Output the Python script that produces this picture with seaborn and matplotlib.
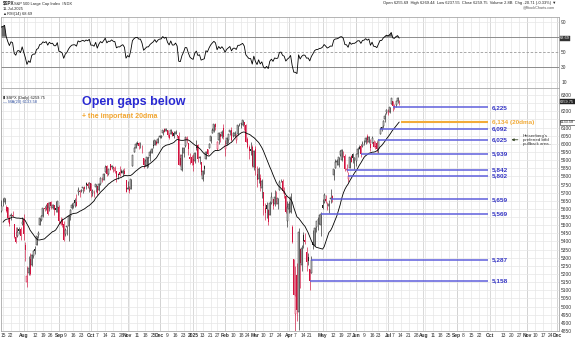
import numpy as np
import pandas as pd
import matplotlib
matplotlib.use("Agg")
import matplotlib.pyplot as plt
import matplotlib.transforms as mtransforms
import seaborn as sns

# ---------------------------------------------------------------- data
first_session = "2024-06-14"
view_start = "2024-07-15"
last_axis_day = "2025-12-05"
market_holidays = ["2024-06-19", "2024-07-04", "2024-09-02", "2024-11-28", "2024-12-25",
                   "2025-01-01", "2025-01-09", "2025-01-20", "2025-02-17", "2025-04-18",
                   "2025-05-26", "2025-06-19", "2025-07-04", "2025-09-01", "2025-11-27",
                   "2025-12-25"]

# daily S&P 500 candles, one line per month (first line: lead-in for the indicators)
opens = [
    5402, 5431, 5476, 5499, 5466, 5459, 5460, 5460, 5473, 5488, 5471, 5461, 5507, 5537, 5572, 5584, 5592, 5635, 5590,
    5638, 5644, 5610, 5609, 5544, 5554, 5565, 5506, 5429, 5434, 5477, 5479, 5505,
    5537, 5376, 5151, 5206, 5293, 5253, 5313, 5352, 5377, 5442, 5502, 5531, 5558, 5603, 5604, 5637, 5603, 5640, 5603, 5624, 5608, 5612,
    5612, 5506, 5531, 5508, 5443, 5490, 5496, 5557, 5605, 5616, 5655, 5641, 5703, 5709, 5711, 5727, 5733, 5762, 5755, 5727,
    5757, 5698, 5697, 5737, 5738, 5719, 5751, 5778, 5775, 5829, 5866, 5816, 5875, 5860, 5858, 5833, 5835, 5817, 5827, 5831, 5819, 5832, 5775,
    5724, 5725, 5722, 5865, 5947, 5976, 6008, 6003, 5986, 5989, 5913, 5870, 5861, 5914, 5925, 5944, 5993, 5992, 6014, 6004,
    6040, 6042, 6069, 6089, 6081, 6084, 6057, 6061, 6074, 6068, 6063, 6052, 6048, 5913, 5842, 5941, 5985, 6025, 6006, 5921, 5920,
    5904, 5892, 5983, 5993, 5910, 5890, 5785, 5863, 5906, 5967, 5976, 6015, 6069, 6077, 6121, 5970, 6026, 6058, 6050, 6096,
    5969, 5998, 6021, 6072, 6083, 6047, 6050, 6026, 6060, 6115, 6121, 6118, 6134, 6115, 6027, 5982, 5970, 5981, 5856,
    5969, 5812, 5782, 5787, 5726, 5705, 5604, 5624, 5594, 5563, 5635, 5662, 5633, 5646, 5631, 5718, 5775, 5771, 5696, 5679, 5527,
    5597, 5581, 5492, 5292, 4953, 5193, 4966, 5353, 5255, 5441, 5411, 5335, 5305, 5232, 5207, 5395, 5381, 5489, 5529, 5508, 5499,
    5625, 5645, 5659, 5605, 5619, 5663, 5679, 5807, 5854, 5886, 5870, 5930, 5903, 5944, 5928, 5841, 5781, 5854, 5926, 5939, 5903,
    5897, 5938, 5978, 5985, 5987, 6005, 6010, 6050, 6009, 5997, 6005, 6013, 5988, 6004, 5970, 6061, 6104, 6108, 6151, 6193,
    6187, 6193, 6243, 6261, 6235, 6239, 6266, 6255.69,
]
highs = [
    5432, 5488, 5490, 5506, 5478, 5490, 5472, 5483, 5490, 5523, 5489, 5510, 5540, 5570, 5583, 5590, 5635, 5642, 5655,
    5670, 5668, 5622, 5614, 5556, 5574, 5585, 5508, 5492, 5488, 5487, 5487, 5551,
    5566, 5396, 5250, 5312, 5331, 5326, 5350, 5371, 5436, 5464, 5545, 5562, 5608, 5620, 5633, 5643, 5641, 5651, 5628, 5627, 5647, 5651,
    5623, 5552, 5546, 5523, 5485, 5497, 5560, 5600, 5636, 5637, 5670, 5690, 5734, 5715, 5725, 5735, 5741, 5767, 5765, 5763,
    5758, 5720, 5718, 5751, 5739, 5757, 5796, 5796, 5822, 5871, 5870, 5846, 5878, 5872, 5866, 5863, 5835, 5818, 5862, 5843, 5847, 5851, 5780,
    5772, 5741, 5783, 5933, 5983, 6012, 6018, 6010, 6009, 5993, 5915, 5909, 5921, 5921, 5962, 5973, 6021, 6025, 6021, 6044,
    6053, 6052, 6087, 6099, 6099, 6088, 6065, 6093, 6079, 6078, 6085, 6057, 6070, 5936, 5982, 5979, 6040, 6050, 6006, 5941, 5930,
    5935, 5950, 6022, 6000, 5928, 5890, 5837, 5872, 5953, 5968, 6007, 6051, 6100, 6119, 6128, 6018, 6070, 6063, 6087, 6120,
    6023, 6042, 6062, 6084, 6101, 6074, 6076, 6063, 6117, 6127, 6129, 6147, 6134, 6120, 6043, 5992, 6009, 5994, 5959,
    5986, 5866, 5860, 5812, 5786, 5706, 5636, 5642, 5597, 5646, 5703, 5662, 5715, 5711, 5670, 5775, 5786, 5783, 5732, 5685, 5651,
    5650, 5695, 5500, 5292, 5247, 5267, 5482, 5353, 5381, 5460, 5450, 5367, 5328, 5232, 5309, 5469, 5490, 5528, 5553, 5565, 5581,
    5658, 5700, 5683, 5641, 5654, 5720, 5683, 5846, 5906, 5906, 5917, 5959, 5968, 5954, 5939, 5878, 5829, 5922, 5930, 5943, 5922,
    5938, 5979, 5991, 5999, 6016, 6022, 6044, 6059, 6046, 6027, 6050, 6023, 6018, 6018, 6028, 6101, 6108, 6146, 6188, 6215,
    6211, 6227, 6284, 6263, 6242, 6265, 6290, 6269.44,
]
lows = [
    5403, 5420, 5471, 5455, 5452, 5447, 5446, 5451, 5469, 5451, 5446, 5452, 5507, 5531, 5562, 5574, 5587, 5576, 5583,
    5620, 5631, 5584, 5522, 5497, 5532, 5550, 5419, 5390, 5430, 5444, 5408, 5502,
    5410, 5283, 5120, 5193, 5192, 5249, 5298, 5324, 5377, 5419, 5502, 5525, 5553, 5586, 5592, 5561, 5585, 5602, 5602, 5560, 5581, 5581,
    5515, 5503, 5486, 5402, 5434, 5442, 5406, 5535, 5601, 5604, 5614, 5615, 5687, 5674, 5704, 5699, 5712, 5722, 5730, 5703,
    5676, 5679, 5675, 5702, 5686, 5711, 5745, 5764, 5775, 5824, 5804, 5808, 5840, 5848, 5824, 5821, 5763, 5784, 5800, 5823, 5804, 5812, 5703,
    5723, 5696, 5722, 5865, 5947, 5976, 5991, 5970, 5972, 5946, 5854, 5865, 5853, 5860, 5897, 5944, 5973, 5993, 5993, 6003,
    6035, 6034, 6056, 6071, 6079, 6043, 6029, 6060, 6051, 6036, 6060, 6036, 5867, 5866, 5833, 5921, 5983, 6004, 5932, 5879, 5869,
    5835, 5882, 5960, 5891, 5874, 5809, 5773, 5812, 5904, 5933, 5976, 6006, 6065, 6075, 6088, 5962, 6000, 6012, 6033, 6031,
    5923, 5991, 6007, 6055, 6019, 6042, 6042, 6003, 6052, 6107, 6100, 6111, 6085, 6009, 5977, 5908, 5933, 5858, 5837,
    5810, 5733, 5762, 5711, 5667, 5565, 5529, 5547, 5504, 5563, 5631, 5598, 5621, 5633, 5599, 5718, 5765, 5695, 5670, 5572, 5489,
    5574, 5572, 5390, 5069, 4835, 4910, 4857, 5116, 5220, 5358, 5387, 5220, 5255, 5101, 5207, 5356, 5372, 5456, 5468, 5505, 5434,
    5597, 5634, 5634, 5593, 5578, 5636, 5644, 5779, 5854, 5868, 5858, 5926, 5895, 5921, 5830, 5826, 5768, 5854, 5887, 5880, 5843,
    5862, 5922, 5967, 5921, 5979, 5994, 5999, 6003, 6004, 5953, 6004, 5978, 5971, 5952, 5943, 6058, 6081, 6097, 6132, 6182,
    6175, 6190, 6243, 6201, 6217, 6225, 6251, 6237.55,
]
closes = [
    5431, 5473, 5487, 5473, 5465, 5448, 5469, 5478, 5483, 5460, 5475, 5509, 5537, 5567, 5572, 5577, 5633, 5585, 5615,
    5631, 5667, 5588, 5544, 5505, 5564, 5555, 5427, 5399, 5459, 5464, 5436, 5522,
    5446, 5347, 5186, 5240, 5199, 5319, 5344, 5344, 5434, 5455, 5543, 5554, 5608, 5597, 5620, 5571, 5635, 5616, 5625, 5592, 5592, 5648,
    5528, 5520, 5503, 5408, 5471, 5496, 5554, 5596, 5626, 5634, 5634, 5618, 5714, 5703, 5719, 5732, 5722, 5745, 5738, 5762,
    5709, 5710, 5700, 5751, 5696, 5751, 5792, 5780, 5815, 5859, 5815, 5843, 5841, 5865, 5853, 5851, 5797, 5809, 5808, 5823, 5832, 5813, 5705,
    5729, 5712, 5782, 5929, 5973, 5996, 6001, 5984, 5985, 5949, 5871, 5894, 5917, 5917, 5949, 5969, 5987, 6021, 5999, 6032,
    6047, 6050, 6087, 6075, 6090, 6053, 6034, 6084, 6051, 6051, 6074, 6051, 5872, 5867, 5931, 5974, 6040, 6038, 5971, 5907, 5882,
    5869, 5942, 5975, 5909, 5918, 5827, 5836, 5843, 5950, 5937, 5997, 6049, 6086, 6119, 6101, 6012, 6068, 6039, 6071, 6041,
    5994, 6038, 6061, 6084, 6026, 6066, 6068, 6052, 6115, 6115, 6129, 6144, 6118, 6013, 5983, 5955, 5956, 5861, 5955,
    5850, 5778, 5843, 5739, 5770, 5615, 5572, 5599, 5522, 5639, 5675, 5615, 5675, 5663, 5668, 5768, 5777, 5712, 5693, 5581, 5612,
    5633, 5671, 5397, 5074, 5062, 4982, 5457, 5268, 5363, 5406, 5397, 5276, 5283, 5158, 5288, 5376, 5485, 5525, 5529, 5561, 5569,
    5604, 5687, 5650, 5607, 5631, 5664, 5660, 5844, 5886, 5892, 5916, 5958, 5964, 5941, 5845, 5842, 5802, 5922, 5889, 5912, 5912,
    5936, 5970, 5971, 5939, 6000, 6006, 6038, 6022, 6045, 5977, 6033, 5983, 5981, 5967, 6025, 6092, 6092, 6141, 6173, 6205,
    6198, 6227, 6279, 6230, 6226, 6263, 6280.46, 6259.75,
]

# open gaps left behind by the rally, with the session each one was opened on
gap_levels = [6225, 6092, 6025, 5939, 5842, 5802, 5659, 5569, 5287, 5158]
gap_dates = ["2025-07-07", "2025-06-24", "2025-06-23", "2025-06-05", "2025-05-22",
             "2025-05-23", "2025-05-08", "2025-04-30", "2025-04-22", "2025-04-21"]
dma_level = 6134
pullback_level = 6025

volume_text = "2.8B"
ma_legend_value = 6133.58
rsi_legend_value = 68.69

# ---------------------------------------------------------------- calendar
days = pd.bdate_range(first_session, last_axis_day)
days = days[~days.isin(pd.to_datetime(market_holidays))]
n = len(closes)
assert len(opens) == len(highs) == len(lows) == n
df = pd.DataFrame({"day": days[:n], "x": np.arange(n),
                   "open": opens, "high": highs, "low": lows, "close": closes})
assert df["day"].iloc[-1] == pd.Timestamp("2025-07-11")
day_pos = {d: i for i, d in enumerate(days)}
i0 = day_pos[pd.Timestamp(view_start)]
last = n - 1

df["ma20"] = df["close"].rolling(20).mean()
delta = df["close"].diff()
gain = delta.clip(lower=0).ewm(alpha=1 / 14, adjust=False).mean()
loss = (-delta.clip(upper=0)).ewm(alpha=1 / 14, adjust=False).mean()
df["rsi"] = 100 - 100 / (1 + gain / loss)
df.loc[df.index < 14, "rsi"] = np.nan

# ---------------------------------------------------------------- style
sns.set_style("white")
plt.rcParams["font.family"] = ["Liberation Sans", "DejaVu Sans"]

W, H = 575, 341
fig = plt.figure(figsize=(W / 100, H / 100), dpi=100)
fig.patch.set_facecolor("white")


def box(x0, y0, x1, y1):
    return [x0 / W, 1 - y1 / H, (x1 - x0) / W, (y1 - y0) / H]


ax_rsi = fig.add_axes(box(1, 17, 559, 88))
ax = fig.add_axes(box(1, 88, 559, 331))
xlim = (i0 - 1.25, i0 + 348)
GRID = "#e6e6e6"
MONTH_GRID = "#c9c9c9"
TICK_FS = 3.5
BOX_FS = 2.8

# weekly and monthly ticks on the session axis
week_ticks, month_ticks = [], []
for i in range(1, len(days)):
    d, p = days[i], days[i - 1]
    if d.month != p.month:
        month_ticks.append(i)
    if (d - pd.Timedelta(days=d.weekday())) != (p - pd.Timedelta(days=p.weekday())):
        week_ticks.append(i)
week_ticks = [i for i in week_ticks if i >= xlim[0] - 0.5]
month_ticks = [i for i in month_ticks if i >= xlim[0] - 0.5]

tick_pos, tick_lab, tick_bold = [], [], []
for i in month_ticks:
    d = days[i]
    tick_pos.append(i)
    tick_lab.append(str(d.year) if d.month == 1 else d.strftime("%b"))
    tick_bold.append(True)
for i in week_ticks:
    d = days[i]
    near = any(abs(np.busday_count(days[m].date(), d.date())) < 4 for m in month_ticks)
    if near:
        continue
    tick_pos.append(i)
    tick_lab.append(str(d.day))
    tick_bold.append(False)

for a in (ax, ax_rsi):
    a.set_xlim(*xlim)
    for i in week_ticks:
        a.axvline(i, color=GRID, lw=0.5, zorder=0)
    for i in month_ticks:
        a.axvline(i, color=MONTH_GRID, lw=0.5, zorder=0)
    for s in a.spines.values():
        s.set_color("#a8a8a8")
        s.set_linewidth(0.6)
    a.yaxis.tick_right()
    a.tick_params(axis="y", length=0, pad=1.6, labelsize=TICK_FS, labelcolor="#333333")


def right_labels(a, values, flagged, gap):
    # price-axis labels, leaving room for the boxed last values
    a.set_yticks(values)
    a.set_yticklabels(["" if any(abs(v - f) < gap for f in flagged) else str(v) for v in values])


# ---------------------------------------------------------------- RSI panel
ax_rsi.set_ylim(2.3, 96)
for lvl in (10, 90):
    ax_rsi.axhline(lvl, color=GRID, lw=0.5, zorder=0)
for lvl in (30, 70):
    ax_rsi.axhline(lvl, color="#8c8c8c", lw=0.7, zorder=1)
ax_rsi.axhline(50, color="#9a9a9a", lw=0.6, ls=(0, (3, 2)), zorder=1)
sns.lineplot(data=df, x="x", y="rsi", ax=ax_rsi, color="black", lw=0.6, zorder=3)
ax_rsi.fill_between(df["x"], 70, df["rsi"], where=df["rsi"] > 70,
                    color="#6b6b6b", lw=0, interpolate=True, zorder=2)
rsi_last = df["rsi"].iloc[-1]
right_labels(ax_rsi, [10, 30, 50, 70, 90], [rsi_last], 6)
ax_rsi.set_xticks([])
ax_rsi.set_xlabel("")
ax_rsi.set_ylabel("")
rsi_blend = mtransforms.blended_transform_factory(ax_rsi.transAxes, ax_rsi.transData)
ax_rsi.text(1.002, rsi_last, f"{rsi_legend_value:.2f}", transform=rsi_blend,
            fontsize=BOX_FS, color="white", va="center", ha="left", zorder=6,
            bbox=dict(boxstyle="square,pad=0.12", fc="#333333", ec="#333333", lw=0.3))

# ---------------------------------------------------------------- price panel
ax.set_ylim(4862, 6343)
for lvl in range(4850, 6301, 50):
    ax.axhline(lvl, color=GRID, lw=0.5, zorder=0)

prev_close = df["close"].shift(1).fillna(df["close"])
colour = np.where(df["close"] >= prev_close, "#222222", "#d2123e")
ax.vlines(df["x"], df["low"], df["high"], colors=colour, lw=0.45, zorder=3)
body_lo = np.minimum(df["open"], df["close"])
body_h = np.maximum(np.abs(df["close"] - df["open"]), 1.5)
hollow = (df["close"] >= df["open"]).to_numpy()
ax.bar(df["x"][~hollow], body_h[~hollow], bottom=body_lo[~hollow], width=0.62,
       color=colour[~hollow], lw=0, zorder=4)
ax.bar(df["x"][hollow], body_h[hollow], bottom=body_lo[hollow], width=0.62,
       facecolor="white", edgecolor=colour[hollow], lw=0.35, zorder=4)
sns.lineplot(data=df, x="x", y="ma20", ax=ax, color="black", lw=0.6, zorder=5)

close_last = df["close"].iloc[-1]
ma_last = df["ma20"].iloc[-1]
right_labels(ax, list(range(4850, 6301, 50)), [close_last, ma_last], 22)

ax.set_xticks(tick_pos)
ax.set_xticklabels(tick_lab)
ax.tick_params(axis="x", length=0, pad=1.5, labelsize=TICK_FS, labelcolor="#333333")
for lab, b in zip(ax.get_xticklabels(), tick_bold):
    if b:
        lab.set_fontweight("bold")
ax.set_xlabel("")
ax.set_ylabel("")

# gap lines and their labels
LINE_END = last + 55.8
LABEL_X = last + 57.8
GAP_LINE = "#5f5fdc"
GAP_TEXT = "#3434c4"
ORANGE = "#f2ab38"
for lvl, start in zip(gap_levels, gap_dates):
    x0 = day_pos[pd.Timestamp(start)]
    ax.hlines(lvl, x0, LINE_END, color=GAP_LINE, lw=1.1, zorder=6)
    ax.text(LABEL_X, lvl, f"{lvl:,}", color=GAP_TEXT, fontsize=4.6, fontweight="bold",
            va="center", ha="left", zorder=7)
ax.hlines(dma_level, last + 0.8, LINE_END, color=ORANGE, lw=1.5, zorder=6)
ax.text(LABEL_X, dma_level, f"{dma_level:,} (20dma)", color=ORANGE, fontsize=4.6,
        fontweight="bold", va="center", ha="left", zorder=7)

ax.annotate("", xy=(last + 68.5, pullback_level), xytext=(last + 76, pullback_level),
            arrowprops=dict(arrowstyle="-|>", color="#3a4a2a", lw=0.6, mutation_scale=3.5),
            zorder=7)
ax.text(last + 77.5, pullback_level, "Heisenberg's\npreferred btfd\npullback area..",
        fontsize=3.2, color="#333333", va="center", ha="left", linespacing=1.05, zorder=7)

price_blend = mtransforms.blended_transform_factory(ax.transAxes, ax.transData)
ax.text(1.002, close_last, f"{close_last:.2f}", transform=price_blend,
        fontsize=BOX_FS, color="white", va="center", ha="left", zorder=8,
        bbox=dict(boxstyle="square,pad=0.12", fc="#222222", ec="#222222", lw=0.3))
ax.text(1.002, ma_last, f"{ma_legend_value:.2f}", transform=price_blend,
        fontsize=BOX_FS, color="#222222", va="center", ha="left", zorder=8,
        bbox=dict(boxstyle="square,pad=0.12", fc="white", ec="#222222", lw=0.4))

# ---------------------------------------------------------------- text
fig.text(82 / W, 1 - 105.5 / H, "Open gaps below", fontsize=9, fontweight="bold",
         color="#2a2ad2", va="baseline", ha="left")
fig.text(82 / W, 1 - 117.5 / H, "+ the important 20dma", fontsize=5, fontweight="bold",
         color="#f2a52e", va="baseline", ha="left")

o, h, l, c = opens[-1], highs[-1], lows[-1], closes[-1]
chg = closes[-1] - closes[-2]
pct = chg / closes[-2] * 100
HDR = 2.9
fig.text(3 / W, 1 - 4.5 / H, "$SPX", fontsize=HDR + 0.4, fontweight="bold", va="baseline")
fig.text(14 / W, 1 - 4.5 / H, "S&P 500 Large Cap Index  INDX", fontsize=HDR, va="baseline")
fig.text(3 / W, 1 - 9.5 / H, "11-Jul-2025", fontsize=HDR, va="baseline")
fig.text(3 / W, 1 - 14.5 / H, f"\u25B2RSI(14) {rsi_legend_value:.2f}", fontsize=HDR, va="baseline")
fig.text(556 / W, 1 - 4 / H,
         f"Open {o:.2f}  High {h:.2f}  Low {l:.2f}  Close {c:.2f}  Volume {volume_text}  "
         f"Chg {chg:.2f} ({pct:.2f}%) \u25BC",
         fontsize=HDR, va="baseline", ha="right", color="#222222")
fig.text(555 / W, 1 - 8.5 / H, "@StockCharts.com", fontsize=HDR - 0.2, va="baseline",
         ha="right", color="#555555")
fig.text(3 / W, 1 - 98.5 / H, f"\u25AE $SPX (Daily) {c:.2f}", fontsize=HDR,
         va="baseline", ha="left", color="#222222")
fig.text(3 / W, 1 - 103 / H, f"\u2014 MA(20) {ma_legend_value:.2f}", fontsize=HDR,
         va="baseline", ha="left", color="#2f4f9f")

fig.savefig("out.png", dpi=100, facecolor="white")
